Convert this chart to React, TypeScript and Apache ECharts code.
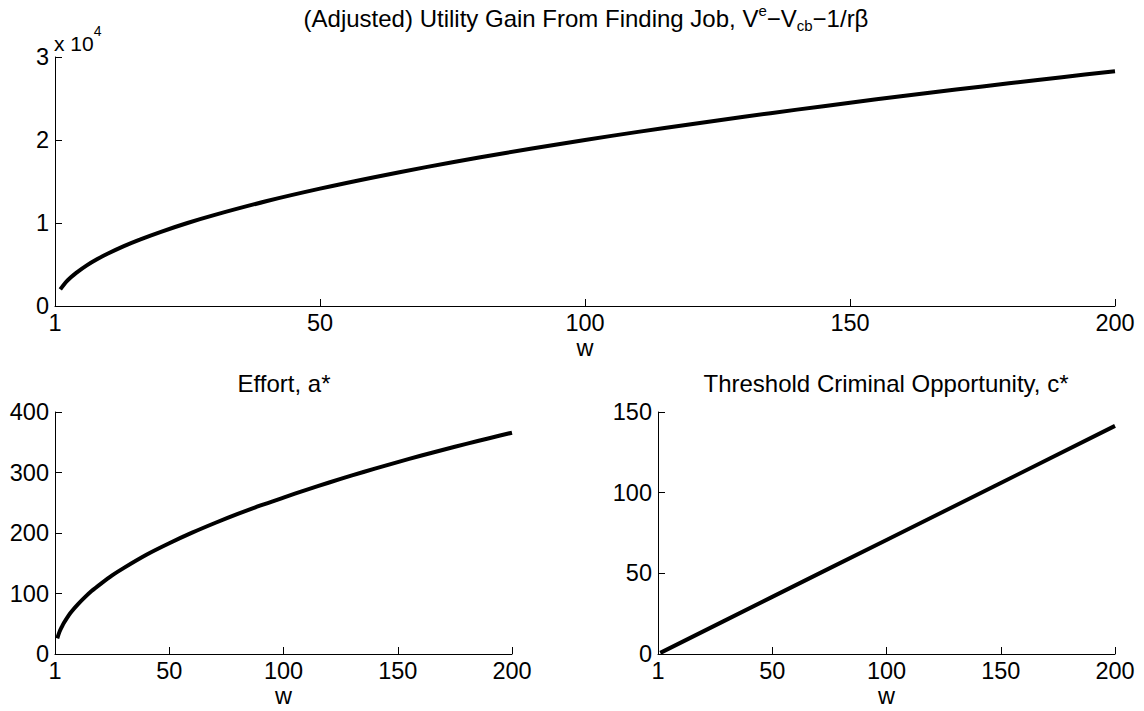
import React, { useEffect, useRef } from "react";
import * as echarts from "echarts";

const W_POINTS = [1, 2, 3, 4, 6, 8, 10, 13, 16, 20, 25, 30, 40, 50, 60, 70, 80, 90, 100, 110, 120, 130, 140, 150, 160, 170, 180, 190, 200];
const UTILITY_GAIN = [2000, 2830, 3460, 4000, 4900, 5660, 6320, 7210, 8000, 8940, 10000, 10950, 12650, 14140, 15490, 16730, 17890, 18970, 20000, 20980, 21910, 22800, 23660, 24490, 25300, 26080, 26830, 27570, 28280];
const EFFORT = [26, 37, 45, 52, 64, 73.5, 82, 93.5, 104, 116, 130, 142, 164, 183, 200.5, 216.5, 231.5, 245.5, 258.5, 271.3, 283.5, 295.2, 306.4, 317.2, 327.6, 337.6, 347.3, 356.7, 365.8];
const C_W = [1, 50, 100, 150, 200];
const C_STAR = [0.7, 35.4, 70.7, 106, 141.4];

const X_TICK_LABEL_FIRST = "1";
const TITLE_TOP = "{b|(Adjusted) Utility Gain From Finding Job, V}{sup|e}{b|−V}{sub|cb}{b|−1/rβ}";
const TITLE_LEFT = "Effort, a*";
const TITLE_RIGHT = "Threshold Criminal Opportunity, c*";
const X_NAME = "w";

const FONT = "'Liberation Sans', Arial, Helvetica, sans-serif";
const FS = 23.5;

export default function App() {
  const ref = useRef<HTMLDivElement>(null);
  useEffect(() => {
    document.body.style.margin = "0";
    const chart = echarts.init(ref.current!, null, { renderer: "svg" });
    const axisCommon = {
      axisLine: { show: true, onZero: false, lineStyle: { color: "#000", width: 1 } },
      axisTick: { show: true, inside: true, length: 7, lineStyle: { color: "#000", width: 1 } },
      splitLine: { show: false },
      axisLabel: { color: "#000", fontSize: FS, fontFamily: FONT, margin: 6 },
    };
    const xAxisOf = (gridIndex: number) => ({
      type: "value",
      gridIndex,
      min: 0,
      max: 200,
      interval: 50,
      ...axisCommon,
      axisLabel: {
        ...axisCommon.axisLabel,
        margin: 5,
        formatter: (v: number) => (v === 0 ? X_TICK_LABEL_FIRST : String(v)),
      },
      name: X_NAME,
      nameLocation: "middle",
      nameGap: 30,
      nameTextStyle: { color: "#000", fontSize: FS, fontFamily: FONT },
    });
    const lineSeries = (xi: number, xs: number[], ys: number[]) => ({
      type: "line",
      xAxisIndex: xi,
      yAxisIndex: xi,
      data: xs.map((x, i) => [x, ys[i]]),
      showSymbol: false,
      smooth: 0.3,
      lineStyle: { color: "#000", width: 4 },
      itemStyle: { color: "#000" },
    });
    const titleRich = {
      b: { fontSize: 24, fontFamily: FONT, color: "#000", lineHeight: 30, verticalAlign: "middle" },
      sup: { fontSize: 15, fontFamily: FONT, color: "#000", lineHeight: 30, verticalAlign: "top" },
      sub: { fontSize: 15, fontFamily: FONT, color: "#000", lineHeight: 30, verticalAlign: "bottom" },
    };
    const subTitleStyle = { fontSize: 24, fontFamily: FONT, fontWeight: "normal", color: "#000", lineHeight: 28 };
    chart.setOption({
      animation: false,
      backgroundColor: "#fff",
      title: [
        {
          text: TITLE_TOP,
          left: 586,
          top: 3,
          padding: 0,
          textAlign: "center",
          textStyle: { rich: titleRich, fontFamily: FONT, fontWeight: "normal" },
        },
        { text: TITLE_LEFT, left: 284, top: 369, padding: 0, textAlign: "center", textStyle: subTitleStyle },
        { text: TITLE_RIGHT, left: 886, top: 369, padding: 0, textAlign: "center", textStyle: subTitleStyle },
      ],
      graphic: [
        {
          type: "text",
          x: 54,
          y: 24,
          style: {
            text: "{a|x 10}{s|4}",
            rich: {
              a: { fontSize: 21, fontFamily: FONT, fill: "#000", lineHeight: 30, verticalAlign: "bottom" },
              s: { fontSize: 14, fontFamily: FONT, fill: "#000", lineHeight: 30, verticalAlign: "top" },
            },
          },
        },
      ],
      grid: [
        { left: 55, top: 57, width: 1060, height: 249 },
        { left: 55, top: 412, width: 457, height: 242 },
        { left: 658, top: 412, width: 457, height: 242 },
      ],
      xAxis: [xAxisOf(0), xAxisOf(1), xAxisOf(2)],
      yAxis: [
        {
          type: "value",
          gridIndex: 0,
          min: 0,
          max: 30000,
          interval: 10000,
          ...axisCommon,
          axisLabel: { ...axisCommon.axisLabel, formatter: (v: number) => String(v / 10000) },
        },
        { type: "value", gridIndex: 1, min: 0, max: 400, interval: 100, ...axisCommon },
        { type: "value", gridIndex: 2, min: 0, max: 150, interval: 50, ...axisCommon },
      ],
      series: [
        lineSeries(0, W_POINTS, UTILITY_GAIN),
        lineSeries(1, W_POINTS, EFFORT),
        lineSeries(2, C_W, C_STAR),
      ],
    });
    return () => chart.dispose();
  }, []);
  return <div ref={ref} style={{ width: 1144, height: 711, position: "absolute", left: 0, top: 0 }} />;
}
